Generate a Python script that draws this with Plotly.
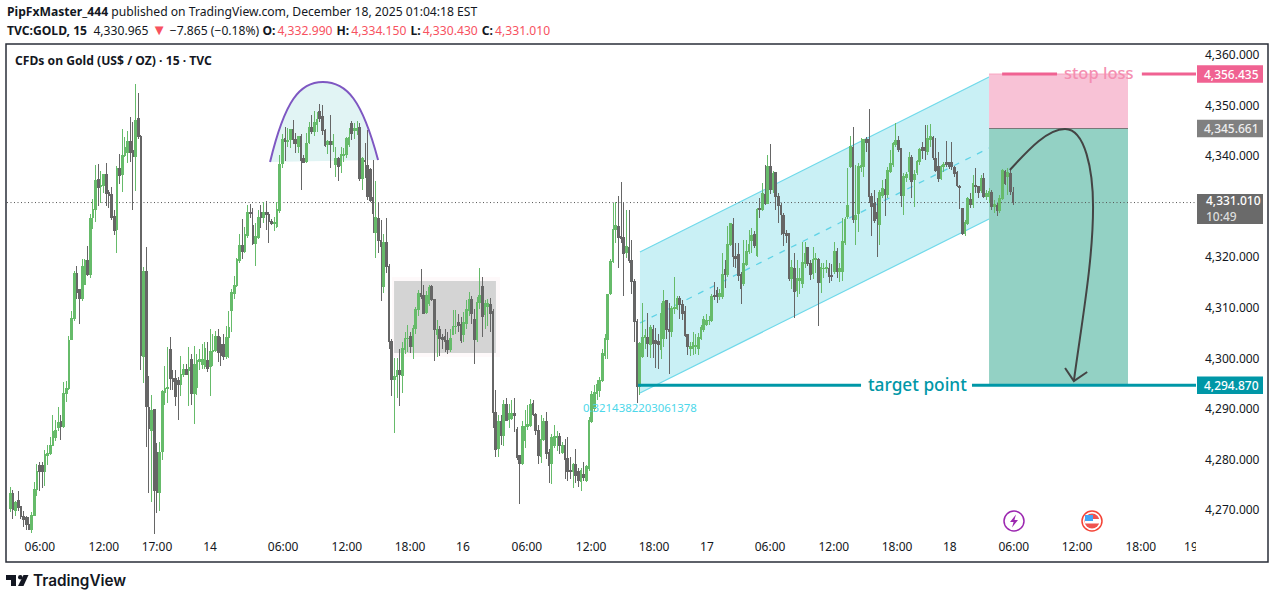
import plotly.graph_objects as go

PRICE_BASE = 4000

open_px = [
270.4,273.4,270,272,270.8,269,268.8,267.4,266.4,269.2,
274.2,278.9,279,277.8,280.9,281.4,283,284.5,286.5,287.6,
286.8,293.2,294.3,304,308,317,313.8,312,314.8,319.5,
316.8,328,329.6,335.6,334.2,334.4,336.5,333,332.7,328.2,
325.7,337.7,336.6,340.3,341,343,341.3,340.2,347.7,344,
300.5,317.3,290.4,286,290,281.6,273.6,281.8,293.5,294.2,
302,296.3,296.3,295.8,295,297,298,297.8,300,293.2,
294.5,299.5,299,298.5,299.8,298.5,301.5,301.8,304.5,303,
303,300.6,304.4,309.6,313,314.7,319.5,322.5,321.4,324.5,
329,326.4,323,324,329,328,329.1,328.6,327.3,326.8,
326.2,329.5,338.8,343.7,343,343.5,345.4,343.4,342.2,344,
339.8,339.1,342.9,345.8,345,346.5,349,348,345.2,342.4,
343.1,342.4,338.6,339.8,338.3,340.3,340.5,342.4,346.6,345.2,
345.2,345.8,335.8,339.3,338.3,337.6,332,325,327.9,323.6,
314.4,323.2,318.3,303.5,296.1,296.6,297.8,296.7,302,304.1,
304.5,302.5,306,309.9,313,312.7,309.3,311.1,314.4,311.8,
305,305.8,304.4,304.5,303.8,302,305,306.4,307.3,306.8,
305,307,309.6,311.8,307.9,304,311.3,314.5,308.8,310.5,
310.8,309.4,289.5,282.3,287.7,285,291,288.1,288.3,289.3,
286.1,280.9,279.4,284,286.7,287,291.3,289,286,280.7,
284.2,287.7,281.5,279.4,282.9,284.6,284.8,281.5,282.9,280.4,
278,277.8,279.1,277.8,275.8,277.3,276.1,278.4,287.7,290.3,
293.3,293.9,295.9,300.8,304,313.1,319.3,325.7,326.2,324.3,
324.1,321.1,322.2,319.5,315.4,307.5,294.6,300.6,304.4,304.4,
303,305.8,303.8,303.5,301.9,304.2,311.6,305.8,305.5,310,
310.1,312.1,310.9,309.4,305,302.2,302.2,302.6,302.2,304.2,
305.8,306.8,307.6,307.6,312.6,313.7,312.4,312.4,317.8,316.7,
322.8,326.6,320.3,320.7,316.7,315,318.7,321.3,323.6,324.6,
320.5,329.8,329.6,332.6,330.9,338.1,333.5,336.9,332.3,330.5,
328.5,324.9,324.8,315.9,318,313.7,315.5,315,319,322.1,
319,316.9,319.7,319.8,315.2,317.9,317.9,318,
316.6,317.4,321.3,317.4,317.4,323.1,328.2,338.2,342,327.6,
328.9,338,338.2,343.4,343.5,332.2,330.9,329,326.7,332.5,
333.5,332.6,337.1,338.6,342.4,343.2,341.7,332.4,336,337.1,
340,335.5,337,339.1,342,342,341.1,343.5,343.9,339.8,
338.1,335.8,338.1,338.9,338.9,339,338,336.9,334.2,329.9,
324.9,326.9,331.6,330.7,334.3,334.2,333.4,335.7,332.2,332.2,
333,330.2,330.4,329.5,331.9,337.2,336.1,336.7,332.99,
]

high_px = [
274.7,274.2,272,273.9,271,270,269,268.8,269.8,275.8,
279.2,279.6,279.6,282,283,284.7,289,287.9,290.5,288.9,
295.6,295.7,304.6,309.6,317.5,318.5,314,319.8,319.8,322.4,
328.7,331.8,338.4,338.7,337.2,336.7,338.9,333.5,334,329.5,
338.3,340.6,345.6,344,345.2,348,347,354.4,352.7,344.3,
318.3,322.3,296.7,293,290,283.4,283.6,293.9,298.7,302.4,
304.4,297.8,297.8,296.6,300.7,299,299,302.4,301,302.6,
301,302,303,303.5,303.5,306,305,305.7,306,304.5,
305,306.5,309.5,314,316.5,320,324.7,327.7,326.2,330.5,
330.8,329.9,327,329.5,330.5,331.2,331.3,329.2,327.8,328.2,
331.2,340.4,344.6,346,345.8,345.5,347.3,344.7,344.2,344.6,
340.5,344.7,346.9,348.3,349.2,349,350.5,350.3,345.5,343.3,
348.3,344.5,342,340,342,341.9,344,345.7,347.1,346.7,
347.1,346.8,340,342.7,345.4,337.8,339.4,335.2,331.2,327.5,
324.8,327.9,318.8,304,300.2,300.2,302,303.5,305.5,306.7,
305.5,306.8,310.4,313.7,317.9,314.7,313.5,314.7,314.7,312,
307.8,306.5,305,306,305.5,306,309.8,309.7,309,308.3,
309.4,311.8,313.3,312.5,309.9,312.3,318,316.2,311.8,312,
312.2,310,294,288.9,289,292,292.3,291.2,292,292.3,
286.7,281,287.8,290,291,292.1,292,289.3,287,289,
288.3,289.5,282.3,285.2,287,285.8,285.4,283.7,284.2,284.7,
280.7,279.4,282.2,278.5,278.5,279.6,279.1,288.5,293.8,295,
296,296.6,302.1,305,313,319.8,330.9,331.2,332.3,335.1,
331.2,329.5,329.5,323.6,315.8,308,303.5,311.1,306,309.1,
306.8,306.8,306.2,305,311.1,313.7,311.8,311.1,310.5,316.2,
312.5,312.5,311.8,310.5,305,303.5,305.5,305,305.2,306.8,
308.5,309,308.5,313,315.2,314.4,314,321,319.7,326.4,
327,327.9,323,323.1,317.2,323.7,323.7,325.5,326,325.3,
330,331.9,334.8,338.4,340.4,342.5,337.2,337.1,333,331,
329,325.5,325,319.7,321,319.7,318,323.3,323.3,322.3,
319.7,322.3,321,320,319,319,319.6,319,
318.9,323.3,322,319,328,328.2,337.8,344.1,346,338.4,
338.8,343.7,343.5,344,349.5,333,333.5,332,333.5,335.5,
335.6,338,341.4,343,346.7,344.2,341.8,336.8,337,341,
340.5,337.5,339.5,341.8,343,346.3,346.3,346.5,344.2,343.7,
341,338.4,339,343.2,339,342.9,338.3,337.2,334.5,330,
327.5,332.1,333,336.5,337.8,334.3,336.5,336.8,333.5,333.8,
333.5,331.5,331,332.5,337.7,337.4,337.9,337.5,334.15,
]

low_px = [
269.8,268.5,269,270,268.4,266.9,266.2,266.3,265.7,269,
273,274,274.5,275,279,281,282.9,283.9,285.9,284,
286.4,291.5,294,303.8,307.5,312,307,311.5,314.7,316.5,
316,325.8,327.1,330.4,331,333,330.3,330,327.5,324.6,
321,334.7,333.1,340,338.8,339,329.6,333.2,343.5,297.8,
295.4,282.7,273.6,271.8,265.5,269.5,270,280,291,291.3,
294,294,290.8,288,292.8,296.6,297,290.8,291,287.2,
293,297.8,298,298,297.5,292.7,298.7,301.5,299.5,298.6,
299.9,300,300.3,305.5,312,314.4,319,319.8,321,324,
328,322.6,318.5,323.8,326,327,325.5,323,326.5,325.4,
326,329,337.9,339.3,342,341.9,342.6,340.8,340.8,333.4,
338.9,338.8,342.6,344.5,344.2,345,347,344.4,342.1,340.6,
337.8,341,336,335.2,336.8,339,339.8,342,343.4,343.5,
344.4,335.2,333.5,335.8,331.5,331.2,325,320,321,311.5,
313.1,317,302,292.8,285.4,292.3,290.7,293.3,301,301.5,
301.2,300,305,308.5,311.9,309,309,310.5,311.5,299.6,
300.5,300.7,302,301.5,301,301.5,304.8,305,305.5,303.3,
303.5,306,308.5,307,299.1,303.5,310,304.5,306,306.5,
305.5,286.4,280.7,280.6,283,282.9,287.7,286.5,288,285.7,
280,271.3,279,282.4,286,286.6,288.8,285,279.3,279.5,
283.9,280.2,275.5,275.3,282.4,281.8,281.3,281.3,276.4,276,
276.3,274.6,275.5,274.7,274,276,275.8,278,287.5,289.8,
292,292.5,295.5,300,300,312.8,319,323,318,323,
312.5,320,319,312.9,303.5,291.3,293,300.2,302,300.5,
300.3,300.2,298.3,298,300,302.5,304,297.1,304.5,309,
309.8,308,307.8,304.5,300.9,300.6,300.8,301,300.9,303.8,
305.5,306.5,306.8,307.3,311.8,311.2,311.8,312,314.1,316.2,
322.5,318.3,318,315.5,311,314.5,318.5,320.8,321,322,
320.3,328,329.3,330.5,330.8,332.8,333,329.5,327,324.6,
322.5,323,315.5,314,308.1,312.4,313,314.2,318,318.5,
315.7,315.8,317,306.5,313.2,316,317,315,
315.5,316.8,316,315.2,315.5,322.6,327.8,337.9,327,322.6,
325.2,337,336,341,331,324.3,326.9,320.2,322.6,332,
328.4,332,336.8,338,342,341,330.2,328.5,335,335.5,
331.9,330.2,336.5,338.5,339.7,339.4,340.5,342,339.5,337,
335,335.5,337,338,337.6,337.5,336,334,329.8,324.6,
324.3,326.5,330,330,333,332,333,331.9,331.5,331,
329.5,329,328.4,329,331.5,334.5,332.5,332.6,330.43,
]

close_px = [
273.4,270.2,271.7,270.7,269,268.4,267.4,266.4,269.2,274.2,
277.8,277.8,277.8,281.1,281.4,283,285.7,286,287.5,286.8,
293.2,294.3,303.8,308,316.9,313.3,312,318.4,319.5,316.8,
327.8,329.6,335.4,334,334.4,336.5,332.8,332.4,328,325.5,
337.8,336.4,340.3,342,343,341,340.2,347.2,344,300.7,
317.3,290.6,286.4,289.8,274,273.6,281.6,293.6,294.2,294.4,
296.3,295.7,292.7,295,296.9,298,297,298.4,293.2,299,
299.7,300,300,302.2,298.2,301.5,301.8,304.6,301.3,300.7,
300.6,304.4,306.3,313.2,314.7,319.7,322.5,321.4,324.7,329,
328.8,323,324.3,328,328,329.1,328.6,327.2,326.8,327,
329.7,338.6,343.4,343.1,343.3,345.4,343.4,342.6,344,339.4,
338.9,342.7,345.9,345,346.9,347.5,347.7,345.2,342.3,343.1,
342.4,343.1,339.8,338.1,340.6,340.6,343.7,343.9,344.7,345.6,
345.6,335.8,339.8,339.1,332.2,331.5,328.9,328.1,323.6,322.4,
323.2,318.3,303.5,296.1,296.6,297.8,297,302.2,304.2,304.2,
302.5,306,309.8,313,312.5,309.1,312.7,314.2,311.8,305.8,
305.8,304.2,304,303.5,302,304.2,306.5,306.5,306.7,303.8,
307.2,309.8,311.8,309,304,311.3,312.6,308.5,311,311,
309,289.5,282.2,287.7,285,291,287.9,289.3,289.3,288.9,
280.6,279.4,286.7,286.7,287.2,291,289,286,281,284.2,
287.7,281.4,278.9,284.6,284.7,284.8,282.9,282.9,280.1,277.8,
277.8,279.1,277.1,276.1,278,276.6,278.8,287.9,293,293.5,
295,295.9,301.2,304.2,312.8,319.3,325.7,326.4,324.1,323.9,
321,322.3,319.5,315.4,307.5,294.6,303.2,304.4,304.8,303.2,
306.2,303.2,303.2,303,309,311.4,305.8,305.5,310,310.3,
312.1,310.8,309.1,304.8,302.5,302.6,303.3,302.8,304.4,306.2,
307.8,307.7,307.7,312.5,312.4,312.4,313,316.7,316.7,322.8,
326.8,320.3,320,316.5,314,318.9,321.3,322.7,324.4,322.5,
329.6,329.7,332.8,330.9,338.1,333.5,336.7,332.3,330.5,328.7,
324.8,324.5,315.9,318.1,313.4,316,316,319.2,321,319,
316.7,319.8,319.9,315.2,318.1,318,318.2,316.4,
316.4,321.3,317.4,318,323.3,327.7,330.4,342.2,327.6,328.5,
338.2,338.4,343.4,342.9,332.2,330.2,327.4,327.8,333,333.7,
332.6,337.3,338.8,342.6,343.2,341.5,332.4,336.1,336.5,340,
335.2,336.5,339.1,341.5,341.3,341.3,343.7,344,339.9,337.3,
335.8,338.1,338.6,338.5,338.2,338.2,336.8,334.3,334,324.9,
327.1,331.9,330.6,334.7,334.2,333,335.7,332.2,332.9,333.2,
330.2,330.6,329.5,331.9,337.3,334.7,337,333.2,331.01,
]

time_tick_bars = [11.1,35.1,55,74.9,102.3,126.2,149.9,169.7,193.7,217.8,241.4,261.2,284.9,308.8,332.5,352.3,376.3,400,423.9,442.7]
time_tick_labels = ["06:00","12:00","17:00","14","06:00","12:00","18:00","16","06:00","12:00","18:00","17","06:00","12:00","18:00","18","06:00","12:00","18:00","19"]
price_ticks = [4270,4280,4290,4300,4310,4320,4330,4340,4350,4360]

last_price = 4331.01
stop_price = 4356.435
entry_price = 4345.661
target_price = 4294.87

dome_bars = [97.4,103,108.6,117.2,126.2,131.9,137.9]
dome_prices = [4339.03,4351.3,4354.86,4354.86,4354.86,4351.3,4339.43]
box_bars = [143.9,182.1]
box_prices = [4301.25,4315.5]
halo_bars = [143.1,183.6]
halo_prices = [4300.45,4316.3]
channel_bars = [236.1,367]
channel_top = [4321.23,4355.85]
channel_mid = [4307.18,4341.8]
channel_bottom = [4293.33,4327.75]
position_bars = [367,419.1]

assert len(open_px) == len(high_px) == len(low_px) == len(close_px), (len(open_px), len(high_px), len(low_px), len(close_px))

GREEN = "#66BB6A"
GRAY = "#666666"
INK = "#131722"
FONT = "Noto Sans"
BASE_SIZE = 12.15

bars = list(range(len(open_px)))
fig = go.Figure(go.Candlestick(
    x=bars,
    open=[PRICE_BASE + v for v in open_px],
    high=[PRICE_BASE + v for v in high_px],
    low=[PRICE_BASE + v for v in low_px],
    close=[PRICE_BASE + v for v in close_px],
    increasing=dict(line=dict(color=GREEN, width=1), fillcolor=GREEN),
    decreasing=dict(line=dict(color=GRAY, width=1), fillcolor=GRAY),
    whiskerwidth=0, hoverinfo="skip", showlegend=False,
))

W0, W1, H0, H1 = 7, 1196, 45, 538
def xp(px): return (px - W0) / (W1 - W0)
def yp(py): return (H1 - py) / (H1 - H0)

shapes = []
def rect(x0, x1, y0, y1, fill, layer="below", line=None):
    shapes.append(dict(type="rect", xref="x", yref="y", x0=x0, x1=x1, y0=y0, y1=y1,
                       fillcolor=fill, line=line or dict(width=0), layer=layer))
def seg(x0, x1, y0, y1, color, width, dash="solid", layer="below"):
    shapes.append(dict(type="line", xref="x", yref="y", x0=x0, x1=x1, y0=y0, y1=y1,
                       line=dict(color=color, width=width, dash=dash), layer=layer))
def paper_path(d, fill=None, color=None, width=0, layer="above"):
    shapes.append(dict(type="path", xref="paper", yref="paper", path=d, fillcolor=fill,
                       line=dict(color=color, width=width), layer=layer))
def pp(points):
    return "M" + " L".join(f"{xp(a):.5f},{yp(b):.5f}" for a, b in points) + " Z"
def paper_rect(a, b, c, d, fill, layer="above"):
    shapes.append(dict(type="rect", xref="paper", yref="paper", x0=xp(a), x1=xp(b), y0=yp(c), y1=yp(d),
                       fillcolor=fill, line=dict(width=0), layer=layer))
def paper_circle(cx, cy, r, fill, color=None, width=0):
    shapes.append(dict(type="circle", xref="paper", yref="paper", x0=xp(cx-r), x1=xp(cx+r), y0=yp(cy-r), y1=yp(cy+r),
                       fillcolor=fill, line=dict(color=color, width=width), layer="above"))

# channel
shapes.append(dict(type="path", xref="x", yref="y", layer="below", fillcolor="#C9F0F5", line=dict(width=0),
    path=f"M{channel_bars[0]},{channel_top[0]} L{channel_bars[1]},{channel_top[1]} L{channel_bars[1]},{channel_bottom[1]} L{channel_bars[0]},{channel_bottom[0]} Z"))
seg(channel_bars[0], channel_bars[1], channel_top[0], channel_top[1], "#6FD9EA", 1.2)
seg(channel_bars[0], channel_bars[1], channel_bottom[0], channel_bottom[1], "#6FD9EA", 1.2)
seg(channel_bars[0], channel_bars[1], channel_mid[0], channel_mid[1], "#5FD3E6", 1.3, dash="6px,7px")

# rectangle zone
rect(halo_bars[0], halo_bars[1], halo_prices[0], halo_prices[1], "#FEF9FA")
rect(box_bars[0], box_bars[1], box_prices[0], box_prices[1], "#D4D4D4")

# short position
rect(position_bars[0], position_bars[1], entry_price, stop_price, "#F8C2D6")
rect(position_bars[0], position_bars[1], target_price, entry_price, "#93D1C4")
seg(position_bars[0], position_bars[1], entry_price, entry_price, "#787878", 1)
seg(position_bars[0], position_bars[1], stop_price, stop_price, "#F8A5C2", 1)

# dome
db, dp = dome_bars, dome_prices
dome_d = f"M{db[0]},{dp[0]} C{db[1]},{dp[1]} {db[2]},{dp[2]} {db[3]},{dp[3]} C{db[4]},{dp[4]} {db[5]},{dp[5]} {db[6]},{dp[6]}"
shapes.append(dict(type="path", xref="x", yref="y", layer="below", path=dome_d + " Z", fillcolor="#E1F4F4", line=dict(width=0)))
shapes.append(dict(type="path", xref="x", yref="y", layer="above", path=dome_d, line=dict(color="#7E57C2", width=2)))

# last price dotted line
seg(-1.24, 444.6, last_price, last_price, "#555555", 1, dash="1px,2.5px")

# stop and target lines
seg(371.9, 392.5, stop_price, stop_price, "#F06292", 3, layer="above")
seg(424.3, 444.6, stop_price, stop_price, "#F06292", 3, layer="above")
seg(235.4, 319, target_price, target_price, "#0097A7", 3, layer="above")
seg(360.6, 444.6, target_price, target_price, "#0097A7", 3, layer="above")

# hand drawn arrow
shapes.append(dict(type="path", xref="x", yref="y", layer="above", line=dict(color="#444444", width=2),
    path="M374.8,4337.45 C382.3,4341.8 389.1,4345.56 395.5,4345.56 C403,4345.56 406,4337.45 406,4330.13 C406,4319.64 401.9,4307.77 398.8,4295.71"))
shapes.append(dict(type="path", xref="x", yref="y", layer="above", line=dict(color="#444444", width=2),
    path="M395.5,4298.28 L398.8,4295.71 L403.8,4297.49"))

# price tags
def price_tag(y0, y1, fill):
    shapes.append(dict(type="rect", xref="paper", yref="y", x0=xp(1197), x1=xp(1263), y0=y0, y1=y1,
                       fillcolor=fill, line=dict(width=0), layer="above"))
price_tag(stop_price-1.72, stop_price+1.72, "#F06292")
price_tag(entry_price-1.72, entry_price+1.72, "#808080")
price_tag(target_price-1.72, target_price+1.72, "#0097A7")
price_tag(4326.77, 4332.7, "#6A6A6A")

# frame and clipped label
shapes.append(dict(type="rect", xref="paper", yref="paper", x0=xp(6), x1=xp(1268), y0=yp(562), y1=yp(44),
                   line=dict(color="#2A2E39", width=1.5), fillcolor="rgba(0,0,0,0)", layer="above"))
paper_rect(1196, 1203, 540, 558, "#FFFFFF")

# event icons
paper_circle(1014, 521, 10, "#FFFFFF", "#9C27B0", 1.5)
paper_path(pp([(1016,514.5),(1010,522),(1013.6,522),(1012,527.5),(1018,520),(1014.4,520)]), fill="#9C27B0")
paper_circle(1092, 521, 10, "#FFFFFF", "#F44336", 1.5)
paper_circle(1092, 521, 7.5, "#EF5350")
paper_rect(1085, 1100, 519, 523.5, "#FFFFFF")
paper_rect(1085, 1093, 515, 521, "#42A5F5")

# logo
paper_path(pp([(6,575),(16,575),(16,586),(11,586),(11,580),(6,580)]), fill=INK)
paper_circle(20.3, 577.3, 2.3, INK)
paper_path(pp([(23.5,575),(28.5,575),(23.5,586),(18,586)]), fill=INK)

# text
annotations = []
def note(px, py, text, size=BASE_SIZE, color=INK, anchor="left", family=FONT, weight=None):
    font = dict(family=family, size=size, color=color)
    if weight:
        font["weight"] = weight
    annotations.append(dict(xref="paper", yref="paper", x=xp(px), y=yp(py), text=text, showarrow=False,
                            xanchor=anchor, yanchor="middle", align=anchor, font=font, borderpad=0))

RED = "#F7525F"
T = "\u2009"
note(6, 12, "<b>PipFxMaster_444</b> published on TradingView.com, December 18, 2025 01:04:18 EST")
note(6, 29, f"<b>TVC:GOLD, 15</b>  4,330.965 <span style='color:{RED};font-size:15px'>▼</span> −7.865 (−0.18%) "
            f"<b>O:</b>{T}<span style='color:{RED}'>4,332.990</span>{T}<b>{T}H:</b>{T}<span style='color:{RED}'>4,334.150</span>{T}<b>{T}L:</b>{T}<span style='color:{RED}'>4,330.430</span>{T}<b>{T}C:</b>{T}<span style='color:{RED}'>4,331.010</span>")
note(14, 60, "<b>CFDs on Gold (US$ / OZ) · 15 · TVC</b>")
note(32, 580, "TradingView", size=15.3, family="Inter", weight=600)

for py, text, col in [(74, "4,356.435", "#FFFFFF"), (128.5, "4,345.661", "#EEEEEE"), (385, "4,294.870", "#FFFFFF")]:
    note(1231, py, text, size=12, color=col, anchor="center", weight=500)
note(1204.5, 208, "4,331.010<br><span style='color:#DDDDDD'>10:49</span>", size=12, color="#FFFFFF", weight=500)

annotations.append(dict(xref="x", yref="y", x=408.2, y=stop_price, yshift=1.5, text="stop loss", showarrow=False,
                        font=dict(family=FONT, size=16.5, color="#F48FB1", weight=500)))
annotations.append(dict(xref="x", yref="y", x=340, y=target_price, yshift=1, text="target point", showarrow=False,
                        font=dict(family=FONT, size=17.3, color="#0097A7", weight=500)))
annotations.append(dict(xref="x", yref="y", x=236.1, y=4290.4, text="0.3214382203061378", showarrow=False,
                        font=dict(family=FONT, size=11.4, color="#4DD7EA")))

fig.update_layout(
    width=1275, height=599, autosize=False,
    margin=dict(l=W0, r=1275-W1, t=H0, b=599-H1, pad=0),
    paper_bgcolor="#FFFFFF", plot_bgcolor="#FFFFFF",
    font=dict(family=FONT, size=12, color=INK),
    showlegend=False, boxgap=0.0,
    shapes=shapes, annotations=annotations,
    xaxis=dict(range=[-1.24, 444.6], tickmode="array", tickvals=time_tick_bars, ticktext=time_tick_labels,
               showgrid=False, zeroline=False, showline=False, ticks="", rangeslider=dict(visible=False),
               tickfont=dict(family=FONT, size=12, color=INK), tickangle=0, fixedrange=True),
    yaxis=dict(range=[4264.65, 4362.18], side="right", tickmode="array", tickvals=price_ticks, tickformat=",.3f",
               showgrid=False, zeroline=False, showline=False, ticks="", ticklabelshift=-1,
               tickfont=dict(family=FONT, size=12, color=INK), fixedrange=True, ticklabelstandoff=8),
)

fig.write_html("out.html", config=dict(displayModeBar=False),
               post_script="document.body.style.margin='0';document.documentElement.style.overflow='hidden';"
                           "var s=document.createElement('style');s.textContent='.boxlayer path{shape-rendering:crispEdges}';document.head.appendChild(s);")
